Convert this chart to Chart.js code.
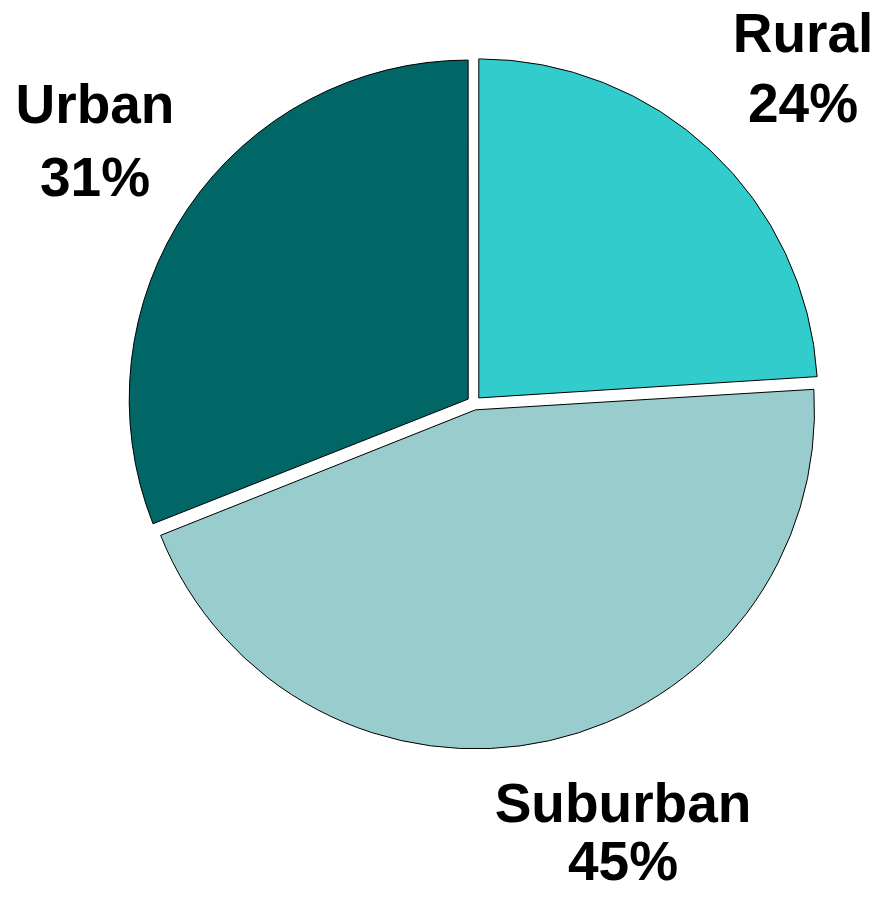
<!DOCTYPE html>
<html>
<head>
<meta charset="utf-8">
<script src="https://cdn.jsdelivr.net/npm/chart.js@4/dist/chart.umd.min.js"></script>
<style>
    html, body { margin: 0; padding: 0; background: #fff; }
    #wrap { width: 882px; height: 898px; }
</style>
</head>
<body>
<div id="wrap"><canvas id="areaPie" width="882" height="898"></canvas></div>
<script>
var categories = ['Rural', 'Suburban', 'Urban'];
var shares = [24, 45, 31];
var sliceColors = ['#33cccc', '#99cccc', '#006666'];

// where each two-line label sits (centre of the text block)
var labelSpots = [
    { x: 803, y: 67, gap: 70 },
    { x: 623, y: 831, gap: 58 },
    { x: 95, y: 140, gap: 73 }
];

(function () {
    var SLICE_OFFSET = 28;

    // arcs wider than a half circle get their radius bumped by the offset;
    // undo that so every slice keeps the same radius
    var evenRadius = {
        id: 'evenRadius',
        afterDatasetsUpdate: function (chart) {
            var meta = chart.getDatasetMeta(0);
            meta.data.forEach(function (arc) {
                var fix = 1 - Math.sin(Math.min(Math.PI, arc.circumference || 0));
                arc.outerRadius -= (SLICE_OFFSET / 4) * fix;
            });
        }
    };

    var sliceLabels = {
        id: 'sliceLabels',
        afterDatasetsDraw: function (chart) {
            var ctx = chart.ctx;
            var values = chart.data.datasets[0].data;
            ctx.save();
            ctx.fillStyle = '#000';
            ctx.textAlign = 'center';
            ctx.textBaseline = 'alphabetic';
            ctx.font = 'bold 55px "Liberation Sans", Arial, sans-serif';
            chart.data.labels.forEach(function (name, i) {
                var spot = labelSpots[i];
                var cap = 39;
                var top = spot.y - (spot.gap + cap) / 2;
                ctx.fillText(name, spot.x, top + cap);
                ctx.fillText(values[i] + '%', spot.x, top + cap + spot.gap);
            });
            ctx.restore();
        }
    };

    var canvas = document.getElementById('areaPie');
    new Chart(canvas, {
        type: 'pie',
        data: {
            labels: categories,
            datasets: [{
                data: shares,
                backgroundColor: sliceColors,
                borderColor: '#000',
                borderWidth: 1,
                offset: SLICE_OFFSET,
                hoverOffset: 0
            }]
        },
        options: {
            responsive: false,
            animation: false,
            events: [],
            radius: 339,
            layout: {
                padding: { left: 66, right: 0, top: 0, bottom: 92 }
            },
            plugins: {
                legend: { display: false },
                tooltip: { enabled: false }
            }
        },
        plugins: [evenRadius, sliceLabels]
    });
})();
</script>
</body>
</html>
